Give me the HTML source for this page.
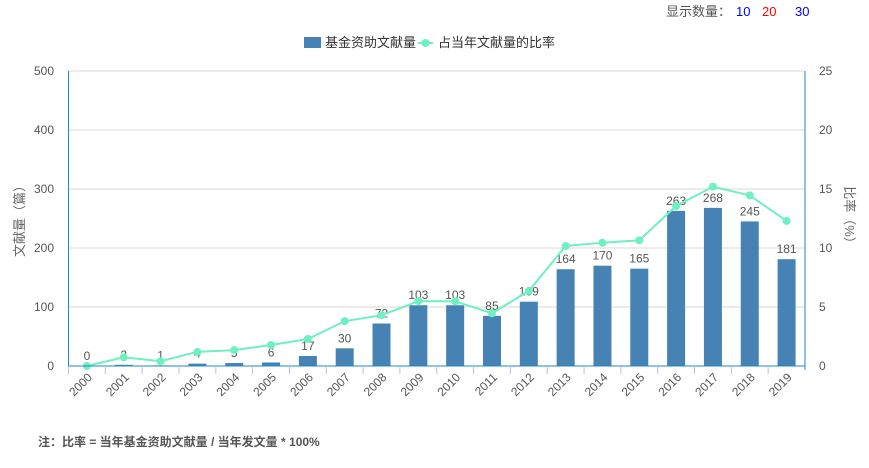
<!DOCTYPE html>
<html><head><meta charset="utf-8"><style>
body{margin:0;background:#fff;font-family:"Liberation Sans","Noto Sans CJK SC",sans-serif;}
svg text{font-family:"Liberation Sans","Noto Sans CJK SC",sans-serif;}
</style></head><body>
<svg id="chart" width="869" height="463" xmlns="http://www.w3.org/2000/svg">
<g font-size="13">
<text x="666" y="16" fill="#555">显示数量：</text>
<text x="736" y="16" fill="#0000ff">10</text>
<text x="762" y="16" fill="#ff0000">20</text>
<text x="795" y="16" fill="#0000ff">30</text>
</g>
<g font-size="13" fill="#333">
<rect x="304" y="37" width="17" height="11" fill="#4682b4"/>
<text x="325" y="47">基金资助文献量</text>
<line x1="418" y1="43" x2="433" y2="43" stroke="#6ef0c0" stroke-width="2"/>
<circle cx="425.5" cy="43" r="4" fill="#6ef0c0"/>
<text x="438" y="47">占当年文献量的比率</text>
</g>
<g id="grid"></g>
<g id="bars"></g>
<g id="line"></g>
<g id="axes"></g>
<text transform="translate(24,218) rotate(-90)" text-anchor="middle" font-size="13" fill="#666">文献量（篇）</text>
<text transform="translate(845,218) rotate(90)" text-anchor="middle" font-size="13" fill="#666">比率（%）</text>
<text x="38" y="446" font-size="12" font-weight="bold" fill="#555">注：比率 = 当年基金资助文献量 / 当年发文量 * 100%</text>
</svg>
<script>
const categories=["2000","2001","2002","2003","2004","2005","2006","2007","2008","2009","2010","2011","2012","2013","2014","2015","2016","2017","2018","2019"];
const counts=[0,2,1,4,5,6,17,30,72,103,103,85,109,164,170,165,263,268,245,181];
const ratios=[0,0.74,0.4,1.2,1.35,1.78,2.29,3.8,4.3,5.5,5.48,4.47,6.36,10.17,10.45,10.65,13.56,15.2,14.46,12.29];
const leftTicks=[0,100,200,300,400,500];
const rightTicks=[0,5,10,15,20,25];
const X0=68.5,X1=805,Y0=366,Y1=71;
const bw=(X1-X0)/categories.length;
const xc=i=>X0+bw*(i+0.5);
const yL=v=>Y0-(v/500)*(Y0-Y1);
const yR=v=>Y0-(v/25)*(Y0-Y1);
const NS="http://www.w3.org/2000/svg";
function mk(tag,attrs,parent,txt){const e=document.createElementNS(NS,tag);for(const k in attrs)e.setAttribute(k,attrs[k]);if(txt!==undefined)e.textContent=txt;parent.appendChild(e);return e;}
const grid=document.getElementById('grid'),bars=document.getElementById('bars'),line=document.getElementById('line'),axes=document.getElementById('axes');
leftTicks.forEach((t,i)=>{
 const y=yL(t);
 if(t>0){const g=mk('line',{x1:X0,x2:X1,y1:y,y2:y,stroke:'#d8d8d8'},grid);
 
 }
 const l=mk('text',{x:54,y:y+4,'text-anchor':'end','font-size':12,fill:'#555'},axes,String(t));
 
 
 const r=mk('text',{x:819,y:yR(rightTicks[i])+4,'font-size':12,fill:'#555'},axes,String(rightTicks[i]));
 
 
});
const ax=mk('line',{x1:X0,x2:X0,y1:Y1,y2:Y0,stroke:'#1e8ac8'},axes);


const ax2=mk('line',{x1:X1,x2:X1,y1:Y1,y2:Y0+4,stroke:'#1e8ac8'},axes);


const xa=mk('line',{x1:X0,x2:X1,y1:Y0,y2:Y0,stroke:'#1e8ac8'},axes);


categories.forEach((c,i)=>{
 const tx=X0+bw*i;
 const tk=mk('line',{x1:tx,x2:tx,y1:Y0,y2:Y0+8,stroke:'#b0c4de'},axes);
 
 
 const cx=xc(i);
 const lb=mk('text',{x:cx+6,y:Y0+12,'text-anchor':'end','font-size':12,fill:'#555',transform:`rotate(-45 ${cx+6} ${Y0+12})`},axes,c);
 
 
 const h=Y0-yL(counts[i]);
 if(h>0){const b=mk('rect',{x:cx-9,y:yL(counts[i]),width:18,height:h,fill:'#4682b4'},bars);
 
 }
 const v=mk('text',{x:cx,y:yL(counts[i])-6,'text-anchor':'middle','font-size':12,fill:'#555'},bars,String(counts[i]));
 
 
});
const pts=ratios.map((r,i)=>xc(i)+','+yR(r)).join(' ');
const pl=mk('polyline',{points:pts,fill:'none',stroke:'#6ef0c0','stroke-width':2},line);


ratios.forEach((r,i)=>{
 const p=mk('circle',{cx:xc(i),cy:yR(r),r:4,fill:'#6ef0c0'},line);
 
 
});
</script>
</body></html>
